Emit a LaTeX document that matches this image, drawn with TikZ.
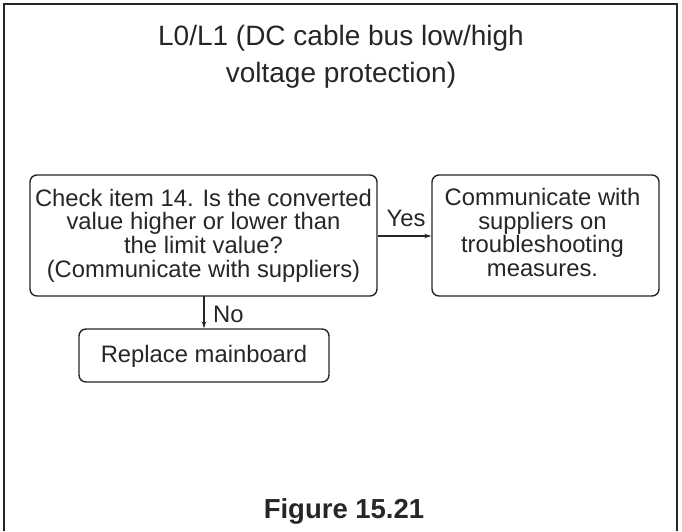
\documentclass[tikz,border=0pt]{standalone}
\usepackage{fontspec}
\setmainfont{Liberation Sans}
\usetikzlibrary{arrows.meta}
\begin{document}
\begin{tikzpicture}[x=1pt,y=-1pt,
  box/.style={draw=black!85,line width=1.4pt,rounded corners=7pt,inner sep=0pt},
  btext/.style={font=\fontsize{23.8}{23.6}\selectfont,align=center,text=black!85,inner sep=0pt,anchor=north},
  conn/.style={draw=black!85,line width=1.2pt,-{Stealth[length=7pt,width=4.5pt]}},
  lbl/.style={font=\fontsize{23.8}{24}\selectfont,text=black!85,inner sep=0pt,anchor=base}]
\useasboundingbox (0,0) rectangle (682,531);
\draw[black!85,line width=2pt] (4,531) -- (4,4) -- (677,4) -- (677,531);
\node[font=\fontsize{28}{37}\selectfont,align=center,text=black!85,inner sep=0pt,anchor=north] (title) at (341,25.2)
  {L0/L1 (DC cable bus low/high\\voltage protection)};
\node[box,minimum width=347pt,minimum height=121pt] (check) at (203.5,235.5) {};
\node[btext] (checkt) at (203.5,188.8) {Check item 14. Is the converted\\value higher or lower than\\the limit value?\\(Communicate with suppliers)};
\node[box,minimum width=227pt,minimum height=121pt] (comm) at (545.5,235.5) {};
\node[btext] (commt) at (542.5,188) {Communicate with\\suppliers on\\troubleshooting\\measures.};
\node[box,minimum width=250pt,minimum height=53pt] (repl) at (204,355.5) {};
\node[lbl] (replt) at (204,362) {Replace mainboard};
\draw[conn] (check.east |- 0,236) -- (comm.west |- 0,236);
\node[lbl] (yes) at (406,226) {Yes};
\coordinate (c1) at (204,296);
\draw[conn] (c1) -- (c1 |- repl.north);
\node[lbl,anchor=base west] (no) at (213,322) {No};
\node[font=\bfseries\fontsize{27.5}{30}\selectfont,text=black!85,inner sep=0pt,anchor=base] (fig) at (344,518) {Figure 15.21};
\end{tikzpicture}
\end{document}
